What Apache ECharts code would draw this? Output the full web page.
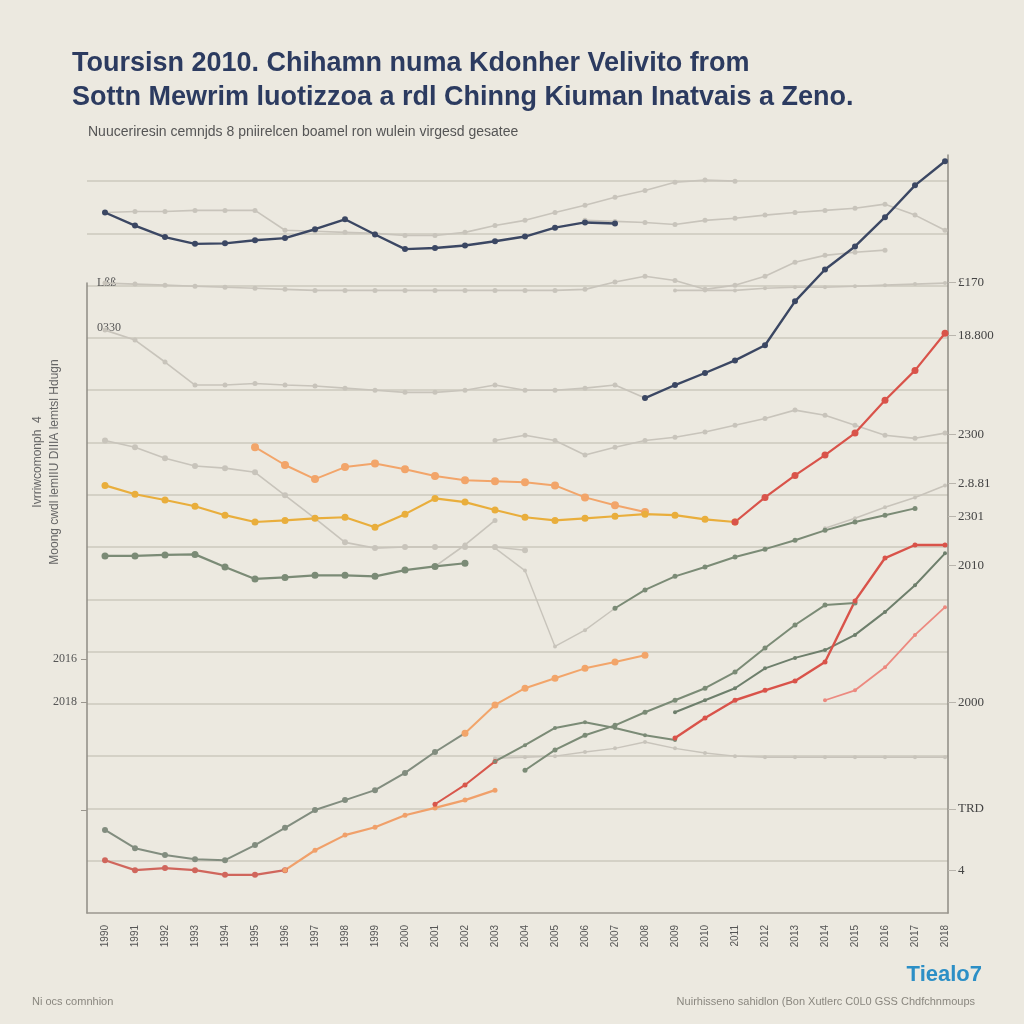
<!DOCTYPE html>
<html>
<head>
<meta charset="utf-8">
<script src="https://cdn.jsdelivr.net/npm/echarts@6/dist/echarts.min.js"></script>
<style>
html,body{margin:0;padding:0;background:#ece9e0;}
#c{width:1024px;height:1024px;}
</style>
</head>
<body>
<div id="c"></div>
<script>
// ---------- data ----------
const years = ['1990','1991','1992','1993','1994','1995','1996','1997','1998','1999','2000','2001','2002','2003','2004','2005','2006','2007','2008','2009','2010','2011','2012','2013','2014','2015','2016','2017','2018'];

const leftOuterValues = [4.86, 4.03, 1.97];
const leftOuterLabels = ['2016', '2018', ''];
const leftInnerValues = [12.06, 11.2];
const leftInnerLabels = ['Lßß', '0330'];
const rightTickValues = [12.06, 11.05, 9.16, 8.22, 7.59, 6.65, 4.03, 1.99, 0.82];
const rightTickLabels = ['£170', '18.800', '2300', '2.8.81', '2301', '2010', '2000', 'TRD', '4'];

const navyA = [13.40,13.15,12.93,12.80,12.81,12.87,12.91,13.08,13.27,12.98,12.70,12.72,12.77,12.85,12.94,13.11,13.21,13.19,null,null,null,null,null,null,null,null,null,null,null];
const navyB = [null,null,null,null,null,null,null,null,null,null,null,null,null,null,null,null,null,null,9.85,10.10,10.33,10.57,10.86,11.70,12.31,12.75,13.31,13.92,14.38];

const grayTop = [13.40,13.42,13.42,13.44,13.44,13.44,13.06,13.04,13.02,13.00,12.96,12.96,13.02,13.15,13.25,13.40,13.54,13.69,13.82,13.98,14.02,14.00,null,null,null,null,null,null,null];
const grayUpperRight = [null,null,null,null,null,null,null,null,null,null,null,null,null,null,null,null,13.25,13.23,13.21,13.17,13.25,13.29,13.35,13.40,13.44,13.48,13.56,13.35,13.06];
const grayBand12 = [12.05,12.03,12.01,11.99,11.97,11.95,11.93,11.91,11.91,11.91,11.91,11.91,11.91,11.91,11.91,11.91,11.93,12.07,12.18,12.10,11.93,12.01,12.18,12.45,12.58,12.64,12.68,null,null];
const grayFlatRight = [null,null,null,null,null,null,null,null,null,null,null,null,null,null,null,null,null,null,null,11.91,11.91,11.91,11.95,11.97,11.97,11.99,12.01,12.03,12.05];
const grayBand10 = [11.15,10.96,10.54,10.10,10.10,10.13,10.10,10.08,10.04,10.00,9.96,9.96,10.00,10.10,10.00,10.00,10.04,10.10,9.85,null,null,null,null,null,null,null,null,null,null];
const grayBand8 = [9.04,8.91,8.70,8.55,8.51,8.43,7.99,7.55,7.09,6.98,7.00,7.00,7.00,7.00,6.94,null,null,null,null,null,null,null,null,null,null,null,null,null,null];
const grayRise = [null,null,null,null,null,null,null,null,null,null,null,6.63,7.04,7.51,null,null,null,null,null,null,null,null,null,null,null,null,null,null,null];
const grayDrop = [null,null,null,null,null,null,null,null,null,null,null,null,null,6.98,6.55,5.10,5.41,5.83,null,null,null,null,null,null,null,null,null,null,null];
const grayRight8 = [null,null,null,null,null,null,null,null,null,null,null,null,null,null,null,null,null,null,null,null,null,null,null,null,7.36,7.55,7.76,7.95,8.18];
const grayBand9 = [null,null,null,null,null,null,null,null,null,null,null,null,null,9.04,9.14,9.04,8.76,8.91,9.04,9.10,9.20,9.33,9.46,9.62,9.52,9.33,9.14,9.08,9.18];
const grayBand3 = [null,null,null,null,null,null,null,null,null,null,null,null,null,2.96,2.98,3.00,3.08,3.15,3.27,3.15,3.06,3.00,2.98,2.98,2.98,2.98,2.98,2.98,2.98];

const orangeMid = [null,null,null,null,null,8.91,8.57,8.30,8.53,8.60,8.49,8.36,8.28,8.26,8.24,8.18,7.95,7.80,7.67,null,null,null,null,null,null,null,null,null,null];
const yellowMid = [8.18,8.01,7.90,7.78,7.61,7.48,7.51,7.55,7.57,7.38,7.63,7.93,7.86,7.71,7.57,7.51,7.55,7.59,7.63,7.61,7.53,7.48,null,null,null,null,null,null,null];
const redUpper = [null,null,null,null,null,null,null,null,null,null,null,null,null,null,null,null,null,null,null,null,null,7.48,7.95,8.37,8.76,9.18,9.81,10.38,11.09];
const greenMidLeft = [6.83,6.83,6.85,6.86,6.62,6.39,6.42,6.46,6.46,6.44,6.56,6.63,6.69,null,null,null,null,null,null,null,null,null,null,null,null,null,null,null,null];
const greenMidRight = [null,null,null,null,null,null,null,null,null,null,null,null,null,null,null,null,null,5.83,6.18,6.44,6.62,6.81,6.96,7.13,7.32,7.48,7.61,7.74,null];

const greenLow = [1.59,1.24,1.11,1.03,1.01,1.30,1.63,1.97,2.16,2.35,2.68,3.08,3.44,null,null,null,null,null,null,null,null,null,null,null,null,null,null,null,null];
const orangeLow = [null,null,null,null,null,null,null,null,null,null,null,null,3.44,3.98,4.30,4.49,4.68,4.80,4.93,null,null,null,null,null,null,null,null,null,null];
const redBottom = [1.01,0.82,0.86,0.82,0.73,0.73,0.82,null,null,null,null,null,null,null,null,null,null,null,null,null,null,null,null,null,null,null,null,null,null];
const orangeBottom = [null,null,null,null,null,null,0.82,1.20,1.49,1.64,1.87,2.01,2.16,2.35,null,null,null,null,null,null,null,null,null,null,null,null,null,null,null];
const redLowLeft = [null,null,null,null,null,null,null,null,null,null,null,2.08,2.45,2.90,null,null,null,null,null,null,null,null,null,null,null,null,null,null,null];
const greenHump = [null,null,null,null,null,null,null,null,null,null,null,null,null,2.90,3.21,3.54,3.65,3.54,3.40,3.31,null,null,null,null,null,null,null,null,null];
const greenClimbA = [null,null,null,null,null,null,null,null,null,null,null,null,null,null,2.73,3.12,3.40,3.59,3.84,4.07,4.30,4.61,5.07,5.51,5.89,5.93,null,null,null];
const greenClimbB = [null,null,null,null,null,null,null,null,null,null,null,null,null,null,null,null,null,null,null,3.84,4.07,4.30,4.68,4.88,5.03,5.32,5.76,6.27,6.88];
const redLow = [null,null,null,null,null,null,null,null,null,null,null,null,null,null,null,null,null,null,null,3.35,3.73,4.07,4.26,4.44,4.80,5.97,6.79,7.04,7.04];
const salmonLow = [null,null,null,null,null,null,null,null,null,null,null,null,null,null,null,null,null,null,null,null,null,null,null,null,4.07,4.26,4.70,5.32,5.85];

// ---------- styles ----------
const C = {
  navy: '#3b4763', gray: '#c8c4bb', orange: '#f2a56a', yellow: '#e9ae3c',
  red: '#d9534a', green: '#7b8b76', salmon: '#ec8a80'
};

function line(name, data, color, width, size, z) {
  return {
    name: name, type: 'line', data: data, xAxisIndex: 0, yAxisIndex: 0,
    connectNulls: false, clip: false, z: z || 2,
    symbol: 'circle', symbolSize: size,
    lineStyle: { color: color, width: width },
    itemStyle: { color: color },
    emphasis: { disabled: true }
  };
}

function lookup(values, labels) {
  return function (v) {
    let best = 0, d = Infinity;
    for (let i = 0; i < values.length; i++) {
      const dd = Math.abs(values[i] - v);
      if (dd < d) { d = dd; best = i; }
    }
    return d < 0.05 ? labels[best] : '';
  };
}

const series = [
  line('g1', grayTop, C.gray, 1.6, 5),
  line('g2', grayUpperRight, C.gray, 1.6, 5),
  line('g3', grayBand12, C.gray, 1.6, 5),
  line('g4', grayFlatRight, C.gray, 1.6, 4),
  line('g5', grayBand10, C.gray, 1.6, 5),
  line('g6', grayBand8, C.gray, 1.6, 6),
  line('g7', grayRise, C.gray, 1.6, 5),
  line('g8', grayDrop, C.gray, 1.4, 4),
  line('g9', grayRight8, C.gray, 1.6, 4),
  line('g10', grayBand9, C.gray, 1.6, 5),
  line('g11', grayBand3, C.gray, 1.4, 4),
  line('navyA', navyA, C.navy, 2.4, 6, 4),
  line('navyB', navyB, C.navy, 2.4, 6, 4),
  line('orangeMid', orangeMid, C.orange, 2, 8, 3),
  line('yellowMid', yellowMid, C.yellow, 2.2, 7, 3),
  line('redUpper', redUpper, C.red, 2.2, 7, 3),
  line('greenMidLeft', greenMidLeft, C.green, 2.2, 7, 3),
  line('greenMidRight', greenMidRight, C.green, 2, 5, 3),
  line('greenLow', greenLow, '#828d7f', 2, 6, 3),
  line('orangeLow', orangeLow, C.orange, 2, 7, 3),
  line('redBottom', redBottom, '#d0665c', 2.2, 6, 3),
  line('orangeBottom', orangeBottom, '#f0a06a', 2.2, 5, 3),
  line('redLowLeft', redLowLeft, '#d8574c', 2, 5, 3),
  line('greenHump', greenHump, C.green, 2, 4, 3),
  line('greenClimbA', greenClimbA, C.green, 2, 5, 3),
  line('greenClimbB', greenClimbB, '#6e7f6c', 2, 4, 3),
  line('redLow', redLow, C.red, 2.4, 5, 3),
  line('salmonLow', salmonLow, C.salmon, 1.8, 4, 3)
];

const Y_MAX = 14.5;
const chart = echarts.init(document.getElementById('c'), null, { renderer: 'canvas' });
chart.setOption({
  backgroundColor: '#ece9e0',
  animation: false,
  title: [
    {
      text: 'Toursisn 2010. Chihamn numa Kdonher Velivito from\nSottn Mewrim luotizzoa a rdl Chinng Kiuman Inatvais a Zeno.',
      left: 67, top: 42,
      textStyle: { fontFamily: 'Liberation Sans', fontSize: 27, fontWeight: 'bold', color: '#2c3b60', lineHeight: 34 }
    },
    {
      text: 'Nuuceriresin cemnjds 8 pniirelcen boamel ron wulein virgesd gesatee',
      left: 83, top: 120,
      textStyle: { fontFamily: 'Liberation Sans Narrow, Liberation Sans', fontSize: 14, fontWeight: 'normal', color: '#555' }
    },
    {
      text: 'Ni ocs comnhion',
      left: 27, top: 991,
      textStyle: { fontFamily: 'Liberation Sans Narrow, Liberation Sans', fontSize: 11, fontWeight: 'normal', color: '#8a877f' }
    },
    {
      text: 'Nuirhisseno sahidlon (Bon Xutlerc C0L0 GSS Chdfchnmoups',
      right: 44, top: 991,
      textStyle: { fontFamily: 'Liberation Sans Narrow, Liberation Sans', fontSize: 11, fontWeight: 'normal', color: '#8a877f' }
    },
    {
      text: 'Tiealo7',
      right: 37, top: 959,
      textStyle: { fontFamily: 'Liberation Sans', fontSize: 22, fontWeight: 'bold', color: '#2c8fc6' }
    }
  ],
  graphic: [
    {
      type: 'text', x: 46, y: 462, rotation: Math.PI / 2,
      style: {
        text: 'Ivrriwcomonph  4\nMoong cwdl lemIIU DIIIA lemtsl Hdugn',
        fill: '#666', font: '12px "Liberation Sans Narrow", "Liberation Sans"',
        align: 'center', verticalAlign: 'middle', lineHeight: 17
      }
    }
  ],
  grid: [
    { left: 105, right: 79, top: 155, bottom: 111 },   // data area
    { left: 87, right: 76, top: 155, bottom: 111 },    // frame, grid lines, right axis
    { left: 87, right: 76, top: 283, bottom: 111 }     // short left axis line
  ],
  xAxis: [
    {
      type: 'category', gridIndex: 0, data: years, boundaryGap: false,
      axisLine: { show: false },
      axisTick: { show: false },
      axisLabel: { rotate: 90, fontSize: 10, color: '#555', margin: 12, fontFamily: 'Liberation Sans Narrow, Liberation Sans' },
      splitLine: { show: false }
    },
    {
      type: 'value', gridIndex: 1, min: 0, max: 1,
      axisLine: { show: true, lineStyle: { color: '#9a968e', width: 1.5 } },
      axisTick: { show: false }, axisLabel: { show: false }, splitLine: { show: false }
    },
    { type: 'value', gridIndex: 2, min: 0, max: 1, show: false }
  ],
  yAxis: [
    { type: 'value', gridIndex: 0, min: 0, max: Y_MAX, show: false },
    {
      type: 'value', gridIndex: 1, min: 0, max: Y_MAX, interval: 1, position: 'left',
      axisLine: { show: false }, axisTick: { show: false }, axisLabel: { show: false },
      splitLine: { show: true, showMinLine: false, showMaxLine: false, lineStyle: { color: '#cdc8be', width: 1.5 } }
    },
    {
      type: 'value', gridIndex: 1, min: 0, max: Y_MAX, position: 'left',
      axisLine: { show: false },
      axisTick: { show: true, customValues: leftOuterValues, length: 6, lineStyle: { color: '#9a968e' } },
      axisLabel: {
        customValues: leftOuterValues, formatter: lookup(leftOuterValues, leftOuterLabels),
        color: '#555', fontSize: 12, fontFamily: 'Liberation Serif', margin: 10
      },
      splitLine: { show: false }
    },
    {
      type: 'value', gridIndex: 1, min: 0, max: Y_MAX, position: 'left',
      axisLine: { show: false }, axisTick: { show: false },
      axisLabel: {
        inside: true, customValues: leftInnerValues, formatter: lookup(leftInnerValues, leftInnerLabels),
        color: '#555', fontSize: 12, fontFamily: 'Liberation Serif', margin: 10
      },
      splitLine: { show: false }
    },
    {
      type: 'value', gridIndex: 1, min: 0, max: Y_MAX, position: 'right',
      axisLine: { show: true, lineStyle: { color: '#8f8b84', width: 1.5 } },
      axisTick: { show: true, customValues: rightTickValues, length: 8, lineStyle: { color: '#b9b5ad' } },
      axisLabel: {
        customValues: rightTickValues, formatter: lookup(rightTickValues, rightTickLabels),
        color: '#444', fontSize: 13, fontFamily: 'Liberation Serif', margin: 10
      },
      splitLine: { show: false }
    },
    {
      type: 'value', gridIndex: 2, min: 0, max: 1, position: 'left',
      axisLine: { show: true, lineStyle: { color: '#8f8b84', width: 1.5 } },
      axisTick: { show: false }, axisLabel: { show: false }, splitLine: { show: false }
    }
  ],
  series: series
});
</script>
</body>
</html>
